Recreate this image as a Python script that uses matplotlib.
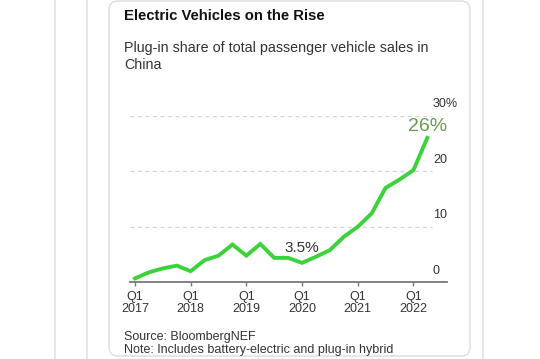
import numpy as np
import matplotlib
matplotlib.use("Agg")
import matplotlib.pyplot as plt
from matplotlib.patches import FancyBboxPatch
from matplotlib.lines import Line2D
from matplotlib.transforms import IdentityTransform

plt.rcParams['font.family'] = ['Liberation Sans', 'DejaVu Sans']

# quarterly plug-in share, Q1 2017 .. Q2 2022 (%)
quarters = ['Q1 2017', 'Q2 2017', 'Q3 2017', 'Q4 2017',
            'Q1 2018', 'Q2 2018', 'Q3 2018', 'Q4 2018',
            'Q1 2019', 'Q2 2019', 'Q3 2019', 'Q4 2019',
            'Q1 2020', 'Q2 2020', 'Q3 2020', 'Q4 2020',
            'Q1 2021', 'Q2 2021', 'Q3 2021', 'Q4 2021',
            'Q1 2022', 'Q2 2022']
share = [0.7, 1.8, 2.5, 3.0,
         2.0, 4.0, 4.8, 6.8,
         4.8, 6.9, 4.4, 4.4,
         3.5, 4.6, 5.8, 8.2,
         10.0, 12.4, 17.0, 18.5,
         20.2, 26.0]
xtick_pos = [0, 4, 8, 12, 16, 20]
xtick_labels = ['Q1\n2017', 'Q1\n2018', 'Q1\n2019', 'Q1\n2020', 'Q1\n2021', 'Q1\n2022']
ytick_vals = [0, 10, 20, 30]
ytick_labels = ['0', '10', '20', '30%']

W, H = 540, 359
fig = plt.figure(figsize=(W / 100, H / 100), dpi=100)
fig.patch.set_facecolor('white')

# background page lines and card
for xp in [55, 87, 483]:
    fig.add_artist(Line2D([xp / W, xp / W], [0, 1], transform=fig.transFigure,
                          color='#e6e6e6', lw=1.3, zorder=-3))
card = FancyBboxPatch((109, 3), 361, 355, boxstyle='round,pad=0,rounding_size=9',
                      transform=IdentityTransform(), facecolor='white',
                      edgecolor='#dcdcdc', lw=1.0, zorder=-2)
fig.add_artist(card)

x = np.arange(len(share))
left_px, right_px = 130, 447
top_px, bot_px = 115.7, 282.3
ax = fig.add_axes([left_px / W, 1 - bot_px / H, (right_px - left_px) / W, (bot_px - top_px) / H])
ax.set_facecolor('none')
ax.set_zorder(2)
step = 13.92
ax.set_xlim(-5 / step, (right_px - 135) / step)
ax.set_ylim(0, 30)

grid_end = (432 - left_px) / (right_px - left_px)
for v in ytick_vals[1:]:
    ax.axhline(v, xmin=0, xmax=grid_end, color='#d4d4d4', lw=0.9, ls=(0, (3, 3)), zorder=1)

ax.plot(x, share, color='#3cd23c', lw=2.8, solid_joinstyle='miter', zorder=3, clip_on=False)

for s in ['top', 'right', 'left']:
    ax.spines[s].set_visible(False)
ax.spines['bottom'].set_color('#777777')
ax.spines['bottom'].set_linewidth(1.3)
ax.set_yticks([])
ax.set_xticks(xtick_pos)
ax.set_xticklabels(xtick_labels, fontsize=9, color='#333333', linespacing=1.0)
ax.tick_params(axis='x', length=3, width=1, color='#777777', pad=3)

ylab_x = (433 - left_px) / (right_px - left_px)
for v, lab in zip(ytick_vals, ytick_labels):
    ax.annotate(lab, xy=(ylab_x, v), xycoords=('axes fraction', 'data'),
                xytext=(0, 4), textcoords='offset points',
                ha='left', va='bottom', fontsize=9, color='#333333')

ax.annotate('26%', xy=(x[-1], share[-1]), xytext=(0, 2), textcoords='offset points',
            ha='center', va='bottom', fontsize=14, color='#6a9a4a')
ax.annotate('3.5%', xy=(x[12], share[12]), xytext=(0, 6), textcoords='offset points',
            ha='center', va='bottom', fontsize=11, color='#333333')

tx = 124 / W
fig.text(tx, 1 - 16 / H, 'Electric Vehicles on the Rise', fontsize=10.7, fontweight='bold',
         color='#111111', ha='left', va='center')
fig.text(tx, 1 - 48 / H, 'Plug-in share of total passenger vehicle sales in', fontsize=10.3,
         color='#333333', ha='left', va='center')
fig.text(tx, 1 - 65 / H, 'China', fontsize=10.3, color='#333333', ha='left', va='center')
fig.text(tx, 1 - 337 / H, 'Source: BloombergNEF', fontsize=9, color='#333333',
         ha='left', va='center')
fig.text(tx, 1 - 350 / H, 'Note: Includes battery-electric and plug-in hybrid', fontsize=9,
         color='#333333', ha='left', va='center')

fig.savefig('out.png', dpi=100)
